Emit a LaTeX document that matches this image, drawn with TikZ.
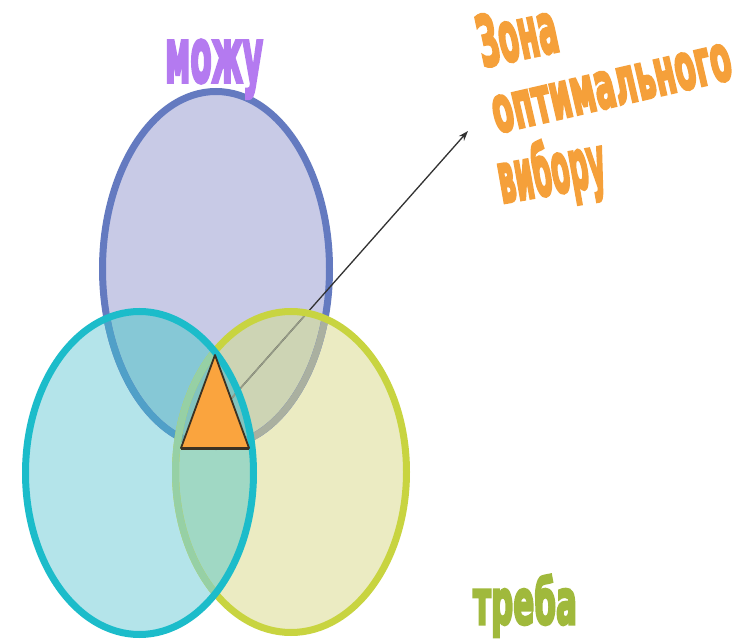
\documentclass[tikz,border=0pt]{standalone}
\usepackage{fontspec}
\usepackage{graphicx}
\usetikzlibrary{arrows.meta}
\newfontfamily\impfam{DejaVu Sans}[BoldFeatures={FakeBold=5}]
\newcommand\imp{\impfam\bfseries}
\newcommand\impbox[3]{\resizebox{#1pt}{#2pt}{\imp\raisebox{0pt}[\fontcharht\font`x][0pt]{#3}}}
\definecolor{bfill}{RGB}{200,202,230}
\definecolor{yfill}{RGB}{235,235,194}
\definecolor{byfill}{RGB}{205,212,180}
\definecolor{cfill}{RGB}{180,228,234}
\definecolor{bcfill}{RGB}{134,200,214}
\definecolor{cyfill}{RGB}{160,216,196}
\definecolor{bcyfill}{RGB}{130,195,190}
\definecolor{bline}{RGB}{100,122,192}
\definecolor{blineY}{RGB}{170,176,160}
\definecolor{blineC}{RGB}{80,160,200}
\definecolor{blineCY}{RGB}{110,175,175}
\definecolor{yline}{RGB}{200,212,64}
\definecolor{ylineC}{RGB}{150,208,165}
\definecolor{cline}{RGB}{28,188,202}
\definecolor{tri}{RGB}{250,164,62}
\definecolor{triline}{RGB}{60,50,35}
\definecolor{purp}{RGB}{180,122,240}
\definecolor{orng}{RGB}{245,160,58}
\definecolor{grn}{RGB}{160,185,60}
\definecolor{arr}{RGB}{50,50,50}
\definecolor{arrY}{RGB}{150,155,135}
\tikzset{
  pB/.style={insert path={(216,269) ellipse [x radius=113.5pt, y radius=177.5pt]}},
  pC/.style={insert path={(139.5,473) ellipse [x radius=114pt, y radius=161.5pt]}},
  pY/.style={insert path={(291,472) ellipse [x radius=115.5pt, y radius=160.5pt]}},
  rim/.style={line width=7pt},
  lbl/.style={anchor=base west, inner sep=0pt, outer sep=0pt}
}
\begin{document}
\begin{tikzpicture}[x=1pt,y=-1pt]
\useasboundingbox (0,0) rectangle (756,639);
\fill[white] (0,0) rectangle (756,639);
% region fills
\fill[bfill, pB];
\fill[yfill, pY];
\begin{scope}\clip[pB]; \fill[byfill, pY];\end{scope}
\fill[cfill, pC];
\begin{scope}\clip[pC]; \fill[bcfill, pB]; \fill[cyfill, pY]; \clip[pB]; \fill[bcyfill, pY];\end{scope}
% blue rim
\draw[bline, rim, pB];
\begin{scope}\clip[pY]; \draw[blineY, rim, pB];\end{scope}
\begin{scope}\clip[pC]; \draw[blineC, rim, pB]; \clip[pY]; \draw[blineCY, rim, pB];\end{scope}
% arrow
\coordinate (ta) at (215,355);
\coordinate (tl) at (181,448);
\coordinate (tr) at (249,448);
\coordinate (tc) at (215,417);
\coordinate (tip) at (468,131);
\draw[arr, line width=1.3pt, -{Stealth[length=10pt,width=7pt]}] (tc) -- (tip);
\begin{scope}\clip[pY]; \draw[arrY, line width=1.5pt] (tc) -- (tip);\end{scope}
% yellow rim
\draw[yline, rim, pY];
\begin{scope}\clip[pC]; \draw[ylineC, rim, pY];\end{scope}
% cyan rim
\draw[cline, rim, pC];
% triangle
\filldraw[fill=tri, draw=triline, line width=1.8pt, line join=round] (ta) -- (tl) -- (tr) -- cycle;
\draw[triline, line width=3pt] (tl) -- (tr);
% labels
\node[lbl, text=purp] (mozhu) at (165,82) {\impbox{98}{41}{можу}};
\node[lbl, text=grn] (treba) at (473,624) {\impbox{104}{34}{треба}};
\node[lbl, text=orng, rotate=12] (z1) at (483,67) {\impbox{80}{38}{Зона}};
\node[lbl, text=orng, rotate=13] (z2) at (497,133) {\impbox{244}{35}{оптимального}};
\node[lbl, text=orng, rotate=10] (z3) at (502,203) {\impbox{108}{38}{вибору}};
\end{tikzpicture}
\end{document}
